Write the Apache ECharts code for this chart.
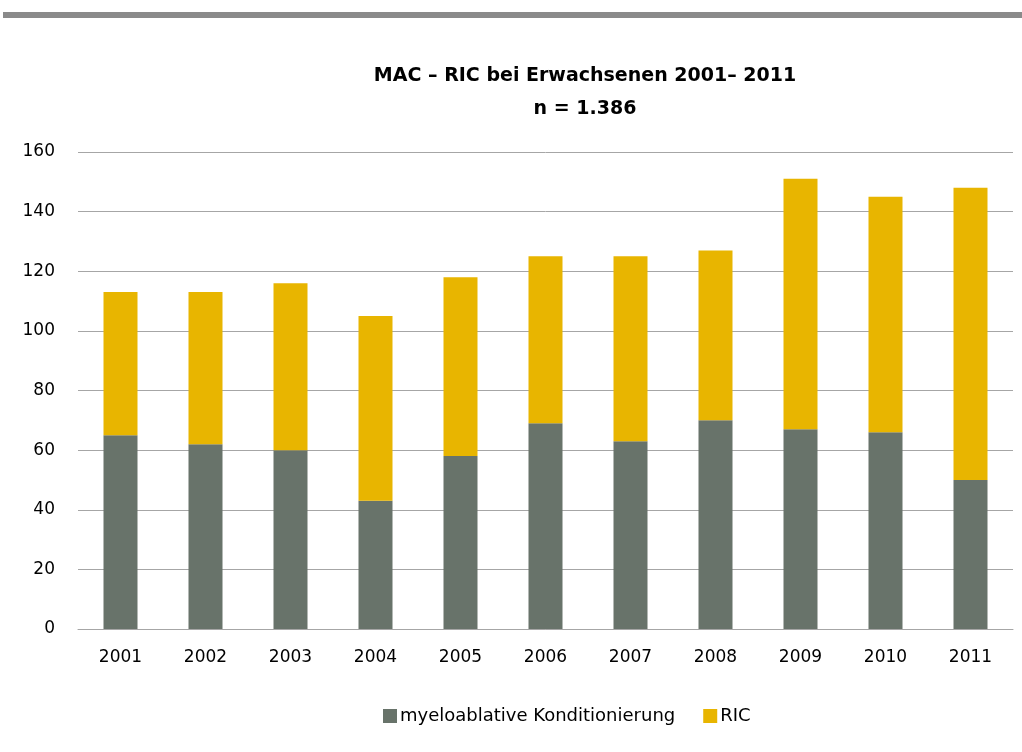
<!DOCTYPE html>
<html>
<head>
<meta charset="utf-8">
<script src="https://cdn.jsdelivr.net/npm/echarts@6/dist/echarts.min.js"></script>
<style>
  html, body { margin: 0; padding: 0; background: #fff; }
  #topbar { position: absolute; left: 3px; top: 12px; width: 1019px; height: 6px; background: #8a8a8a; }
  #chart { width: 1022px; height: 752px; }
</style>
</head>
<body>
<div id="topbar"></div>
<div id="chart"></div>
<script>
// Stem cell transplants in adults by conditioning type, 2001–2011
const years = ['2001', '2002', '2003', '2004', '2005', '2006', '2007', '2008', '2009', '2010', '2011'];
const macValues = [65, 62, 60, 43, 58, 69, 63, 70, 67, 66, 50];
const ricValues = [48, 51, 56, 62, 60, 56, 62, 57, 84, 79, 98];
const yTicks = [0, 20, 40, 60, 80, 100, 120, 140, 160];

const fontFamily = '"DejaVu Sans", Verdana, sans-serif';
const chart = echarts.init(document.getElementById('chart'), null, { renderer: 'canvas' });

chart.setOption({
  animation: false,
  textStyle: { fontFamily: fontFamily },
  title: {
    text: 'MAC – RIC bei Erwachsenen 2001– 2011\nn = 1.386',
    left: 580,
    top: 55,
    textAlign: 'center',
    textStyle: { fontSize: 19, fontWeight: 'bold', color: '#000', lineHeight: 33, fontFamily: fontFamily }
  },
  legend: {
    bottom: 22,
    left: 378,
    itemWidth: 14,
    itemHeight: 14,
    itemGap: 28,
    icon: 'rect',
    textStyle: { fontSize: 18, color: '#000', fontFamily: fontFamily, padding: [0, 0, 0, -2] },
    data: ['myeloablative Konditionierung', 'RIC']
  },
  grid: { left: 78, right: 9, top: 152, bottom: 123, containLabel: false },
  xAxis: {
    type: 'category',
    data: years,
    axisLine: { lineStyle: { color: '#a6a6a6', width: 1 } },
    axisTick: { show: false },
    axisLabel: { fontSize: 17, color: '#000', margin: 20, fontFamily: fontFamily }
  },
  yAxis: {
    type: 'value',
    min: yTicks[0],
    max: yTicks[yTicks.length - 1],
    interval: yTicks[1] - yTicks[0],
    axisLine: { show: false },
    axisTick: { show: false },
    axisLabel: { fontSize: 17, color: '#000', margin: 23, fontFamily: fontFamily },
    splitLine: { lineStyle: { color: '#a6a6a6', width: 1 } }
  },
  series: [
    {
      name: 'myeloablative Konditionierung',
      type: 'bar',
      stack: 'total',
      data: macValues,
      barWidth: '40%',
      itemStyle: { color: '#68736a' }
    },
    {
      name: 'RIC',
      type: 'bar',
      stack: 'total',
      data: ricValues,
      barWidth: '40%',
      itemStyle: { color: '#e8b500' }
    }
  ]
});
</script>
</body>
</html>
